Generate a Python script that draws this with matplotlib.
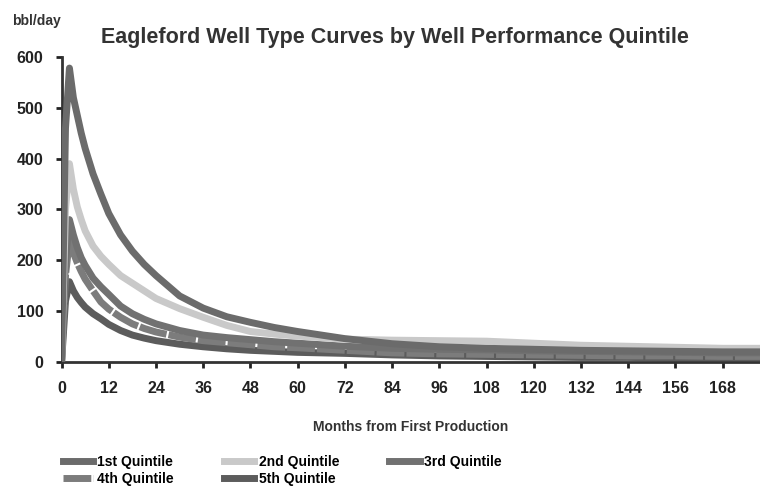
import matplotlib
matplotlib.use("Agg")
import matplotlib.pyplot as plt

# months from first production (sample points)
months = [0, 1, 2, 3, 4, 5, 6, 8, 10, 12, 15, 18, 21, 24, 30, 36, 42, 48, 54, 60,
          72, 84, 96, 108, 120, 132, 144, 156, 168, 178]

q1 = [0, 460, 578, 520, 485, 450, 420, 370, 330, 292, 250, 218, 192, 170, 130, 106, 89, 78, 68, 60,
      46, 36, 30, 27, 25, 23, 22, 21, 20, 20]
q2 = [0, 300, 390, 340, 305, 280, 258, 228, 208, 192, 170, 155, 140, 125, 105, 88, 72, 60, 55, 51,
      45, 43, 42, 41, 37, 33, 31, 29, 27, 27]
q3 = [0, 200, 280, 250, 225, 205, 190, 165, 148, 133, 110, 95, 84, 75, 62, 53, 48, 44, 40, 37,
      31, 27, 25, 24, 22, 21, 20, 19, 18, 18]
q4 = [0, 170, 240, 215, 195, 178, 163, 140, 118, 104, 88, 75, 66, 59, 49, 42, 38, 34, 30, 28,
      23, 18, 16, 15, 14, 13, 12, 12, 11, 11]
q5 = [0, 120, 158, 140, 127, 117, 108, 95, 85, 74, 62, 53, 47, 42, 35, 30, 26, 23, 21, 19,
      17, 14, 12, 11, 10, 9, 9, 8, 8, 8]

labels = ['1st Quintile', '2nd Quintile', '3rd Quintile', '4th Quintile', '5th Quintile']
xticks = list(range(0, 169, 12))
yticks = [0, 100, 200, 300, 400, 500, 600]

plt.rcParams['font.family'] = ['Liberation Sans', 'DejaVu Sans']
plt.rcParams['font.weight'] = 'bold'

fig = plt.figure(figsize=(7.6, 4.99), dpi=100)
ax = fig.add_axes([0.081, 0.2745, 0.919, 0.6115])

l1, = ax.plot(months, q1, color='#6b6b6b', lw=5, label=labels[0], zorder=5)
l2, = ax.plot(months, q2, color='#c9c9c9', lw=5, label=labels[1], zorder=4)
l3, = ax.plot(months, q3, color='#717171', lw=5, label=labels[2], zorder=3)
l4, = ax.plot(months, q4, color='#7c7c7c', lw=5, ls=(0, (4, 0.3)), label=labels[3], zorder=2)
l5, = ax.plot(months, q5, color='#5c5c5c', lw=5, label=labels[4], zorder=1)

ax.set_xlim(0, 177.5)
ax.set_ylim(0, 600)
ax.set_xticks(xticks)
ax.set_yticks(yticks)
ax.tick_params(axis='both', labelsize=11.5, colors='#222222', width=2, length=4)
ax.tick_params(axis='x', pad=10)
ax.tick_params(axis='y', pad=9)
for lab in ax.get_xticklabels() + ax.get_yticklabels():
    lab.set_fontweight('bold')

for s in ['top', 'right']:
    ax.spines[s].set_visible(False)
for s in ['left', 'bottom']:
    ax.spines[s].set_color('#333333')
    ax.spines[s].set_linewidth(2)

ax.set_xlabel('Months from First Production', fontsize=10, fontweight='bold',
              color='#333333', labelpad=17)
fig.text(0.52, 0.925, 'Eagleford Well Type Curves by Well Performance Quintile',
         ha='center', va='center', fontsize=15.5, fontweight='bold', color='#333333')
fig.text(0.016, 0.958, 'bbl/day', ha='left', va='center', fontsize=10,
         fontweight='bold', color='#333333')

# legend fills column by column, so order handles to read row by row
handles = [l1, l4, l2, l5, l3]
fig.legend(handles, [h.get_label() for h in handles], loc='upper left',
           bbox_to_anchor=(0.075, 0.1), ncol=3, frameon=False,
           fontsize=10, handlelength=2.2, handletextpad=0.3, columnspacing=3.6,
           labelspacing=0.25, borderaxespad=0)

fig.savefig('out.png', dpi=100)
